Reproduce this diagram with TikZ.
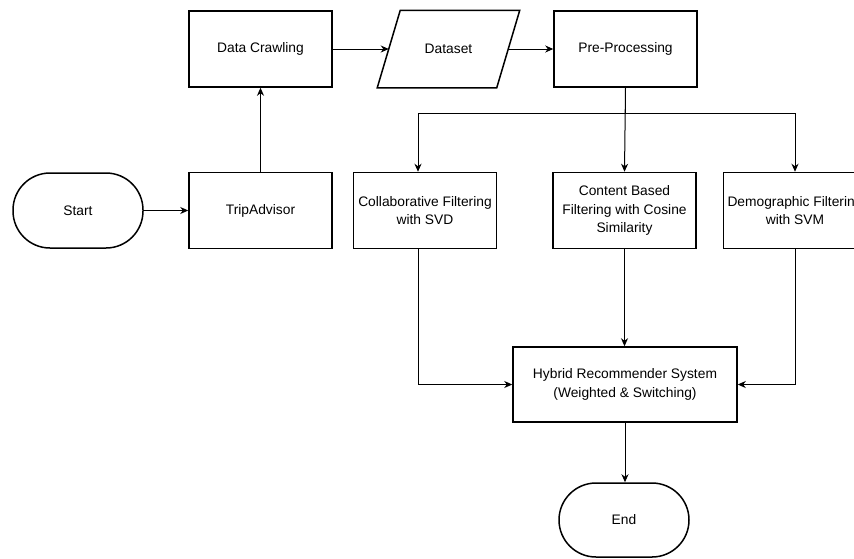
\documentclass[tikz,border=0pt]{standalone}
\usepackage{fontspec}
\setmainfont{Liberation Sans}
\usetikzlibrary{arrows.meta,calc}
\begin{document}
\begin{tikzpicture}[x=1pt,y=-1pt,
 box/.style={draw, line width=1.5pt, minimum width=143pt, minimum height=76pt, inner sep=0pt, align=center, font=\fontsize{13.8}{18.5}\selectfont},
 term/.style={box, minimum width=130pt, minimum height=75pt, rounded corners=37pt},
 ghost/.style={box, draw=none, minimum width=118pt},
 conn/.style={line width=1pt, -{Stealth[length=8pt,width=7pt,inset=2.5pt]}},
]
\useasboundingbox (0,0) rectangle (854,558);
\clip (0,0) rectangle (854,558);
\node[term] (start) at (78,210.5) {Start};
\node[box] (trip) at (260.5,210.5) {TripAdvisor};
\node[box] (crawl) at (260.5,49) {Data Crawling};
\node[ghost] (dataset) at (448.5,49) {Dataset};
\draw[line width=1.5pt] ($(dataset.north west)+(11.5,0)$) -- ($(dataset.north east)+(11.5,0)$) -- ($(dataset.south east)+(-11.5,0)$) -- ($(dataset.south west)+(-11.5,0)$) -- cycle;
\node[box] (pre) at (625.5,49) {Pre-Processing};
\node[box] (collab) at (425,210.5) {Collaborative Filtering\\with SVD};
\node[box] (content) at (624.5,210.5) {Content Based\\Filtering with Cosine\\Similarity};
\node[box] (demo) at (795,210.5) {Demographic Filtering\\with SVM};
\node[box, minimum width=224pt, minimum height=75pt] (hybrid) at (625,384.5) {Hybrid Recommender System\\(Weighted \& Switching)};
\node[term, minimum height=74pt] (end) at (624,520) {End};

\draw[conn] (start) -- (trip);
\draw[conn] (trip) -- (crawl);
\draw[conn] (crawl) -- (dataset);
\draw[conn] (dataset) -- (pre);
\draw[conn] (pre.south) -- (content.north);
\draw[conn] (pre.south) -- ++(0,26) -| ([xshift=-7pt]collab.north);
\draw[conn] (pre.south) -- ++(0,26) -| (demo.north);
\draw[conn] ([xshift=-7pt]collab.south) |- (hybrid.west);
\draw[conn] (content.south) -- (content.south |- hybrid.north);
\draw[conn] (demo.south) |- (hybrid.east);
\draw[conn] (hybrid.south) -- (hybrid.south |- end.north);
\end{tikzpicture}
\end{document}
